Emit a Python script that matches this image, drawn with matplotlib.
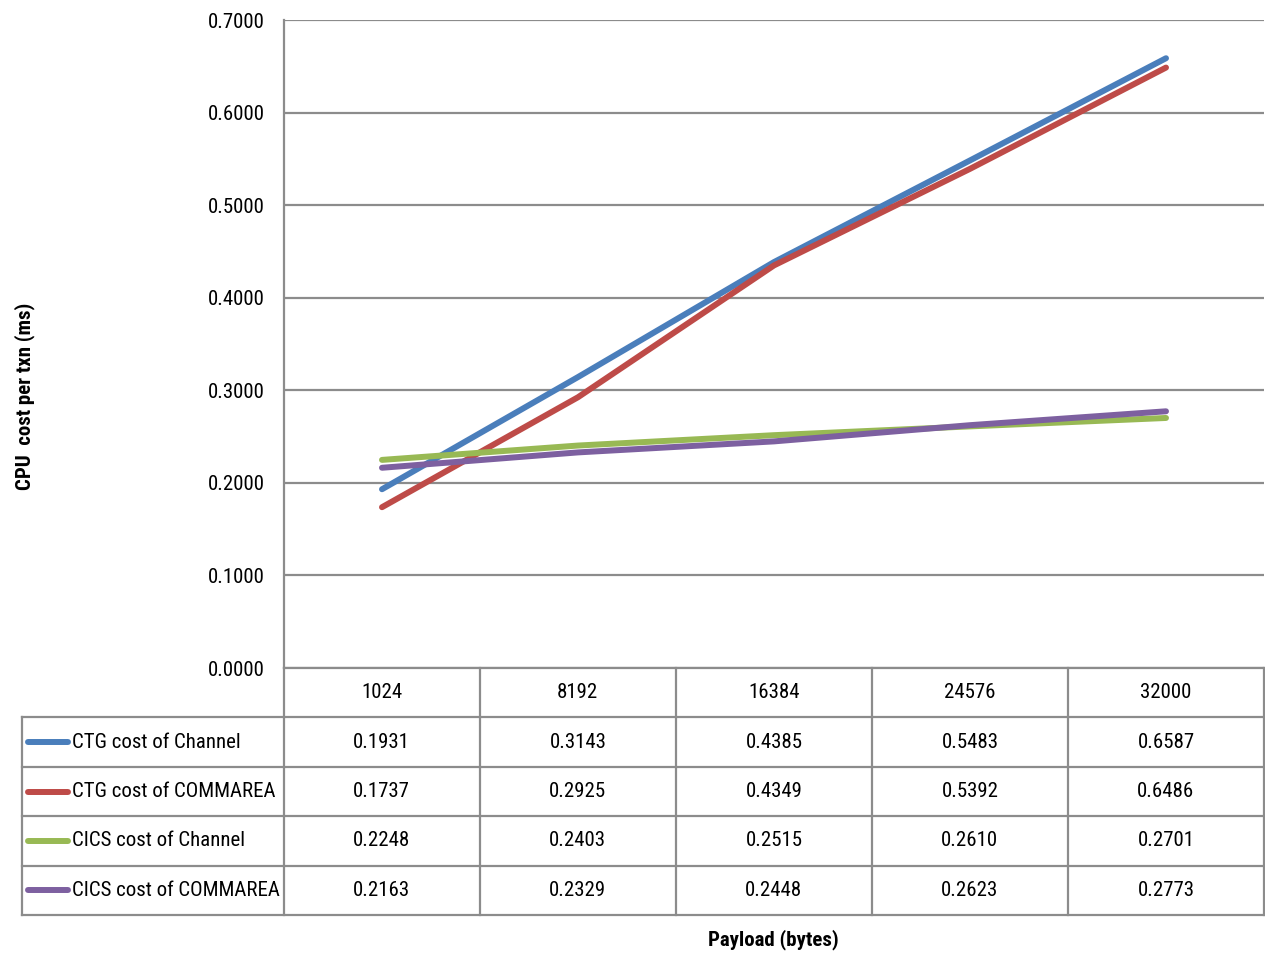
import matplotlib
matplotlib.use("Agg")
import matplotlib.pyplot as plt
from matplotlib import font_manager
from matplotlib.font_manager import FontProperties

# data
payloads = ["1024", "8192", "16384", "24576", "32000"]
series_names = ["CTG cost of Channel", "CTG cost of COMMAREA",
                "CICS cost of Channel", "CICS cost of COMMAREA"]
ctg_channel = [0.1931, 0.3143, 0.4385, 0.5483, 0.6587]
ctg_commarea = [0.1737, 0.2925, 0.4349, 0.5392, 0.6486]
cics_channel = [0.2248, 0.2403, 0.2515, 0.2610, 0.2701]
cics_commarea = [0.2163, 0.2329, 0.2448, 0.2623, 0.2773]
colors = ["#4a7ebb", "#be4b48", "#98b954", "#7d60a0"]


def wnum(w):
    if isinstance(w, str):
        return font_manager.weight_dict.get(w, 400)
    return int(w)


# find a narrow face with both a regular and a bold file
groups = {}
for f in font_manager.fontManager.ttflist:
    st = str(f.stretch)
    if f.style != "normal":
        continue
    if "Narrow" in f.name or "Condensed" in f.name or "condensed" in st:
        g = groups.setdefault((f.name, st), {})
        g.setdefault(wnum(f.weight), f.fname)

pick = None
for pref in ["Liberation", "Noto", "Open", "Roboto", "DejaVu", ""]:
    for key, g in groups.items():
        if pref in key[0] and 400 in g and 700 in g:
            pick = g
            break
    if pick:
        break

fs = 15
if pick:
    reg = FontProperties(fname=pick[400], size=fs)
    bold = FontProperties(fname=pick[700], size=fs)
else:
    fs = 13
    reg = FontProperties(family="Liberation Sans", size=fs)
    bold = FontProperties(family="Liberation Sans", weight="bold", size=fs)

W, H = 1265, 955
fig = plt.figure(figsize=(W / 100, H / 100), dpi=100)


def fx(px):
    return px / W


def fy(py):
    return 1 - py / H


grid_c = "#8c8c8c"
all_series = [ctg_channel, ctg_commarea, cics_channel, cics_commarea]

# main plot
ax = fig.add_axes([fx(284), fy(668), fx(1264) - fx(284), fy(20) - fy(668)])
xs = list(range(len(payloads)))
for vals, c in zip(all_series, colors):
    ax.plot(xs, vals, color=c, lw=4.3, solid_capstyle="round", zorder=3)
ax.set_xlim(-0.5, 4.5)
ax.set_ylim(0, 0.7)
ax.set_yticks([i / 10 for i in range(8)])
ax.set_yticklabels(["%.4f" % (i / 10) for i in range(8)])
for lab in ax.get_yticklabels():
    lab.set_fontproperties(reg)
ax.tick_params(axis="y", length=0, pad=14)
ax.set_xticks([])
ax.grid(axis="y", color=grid_c, lw=1.6)
for s in ["top", "right", "bottom"]:
    ax.spines[s].set_visible(False)
ax.spines["left"].set_color(grid_c)
ax.spines["left"].set_linewidth(1.6)

# data table
left_units = 262 / 196.2
tx = fig.add_axes([fx(22), fy(915), fx(1264) - fx(22), fy(668) - fy(915)])
tx.set_xlim(-0.5 - left_units, 4.5)
tx.set_ylim(5, 0)
tx.axis("off")
lk = dict(color=grid_c, lw=1.6, clip_on=False)
tx.plot([-0.5, 4.5], [0, 0], **lk)
for r in range(1, 6):
    tx.plot([-0.5 - left_units, 4.5], [r, r], **lk)
for c in range(6):
    tx.plot([c - 0.5, c - 0.5], [0, 5], **lk)
tx.plot([-0.5 - left_units] * 2, [1, 5], **lk)

for i, p in enumerate(payloads):
    tx.text(i, 0.5, p, ha="center", va="center", fontproperties=reg)
for r, (name, vals, c) in enumerate(zip(series_names, all_series, colors)):
    y = r + 1.5
    x0 = -0.5 - left_units
    tx.plot([x0 + 6 / 196.2, x0 + 46 / 196.2], [y, y], color=c, lw=4.3,
            solid_capstyle="round", clip_on=False)
    tx.text(x0 + 50 / 196.2, y, name, ha="left", va="center", fontproperties=reg)
    for i, v in enumerate(vals):
        tx.text(i, y, "%.4f" % v, ha="center", va="center", fontproperties=reg)

fig.text(fx(25), fy(396), "CPU  cost per txn (ms)", rotation=90, ha="center",
         va="center", fontproperties=bold)
fig.text(fx(773), fy(940), "Payload (bytes)", ha="center", va="center",
         fontproperties=bold)

fig.savefig("out.png", dpi=100)
